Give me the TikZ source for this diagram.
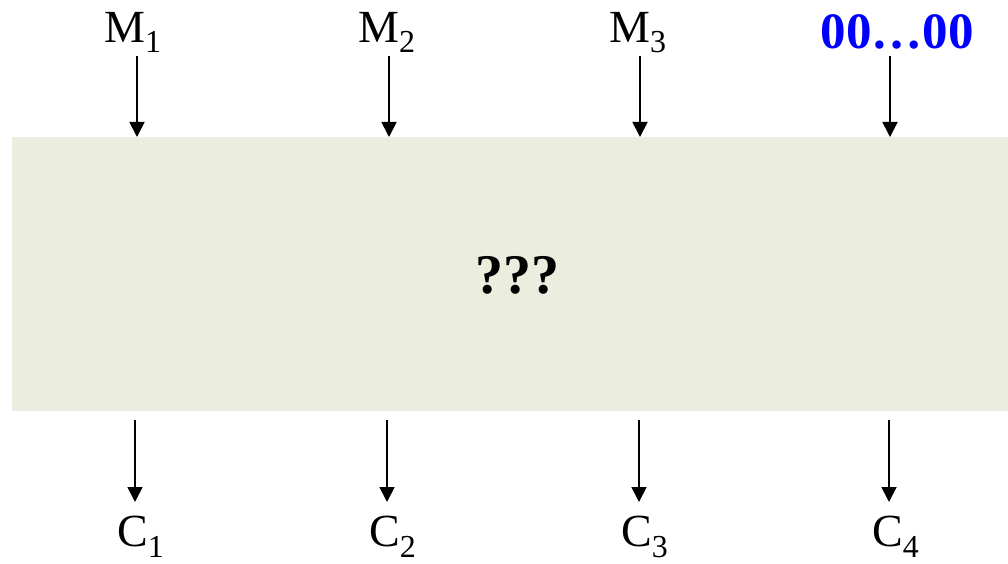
\documentclass[tikz,border=0pt]{standalone}
\usepackage{fontspec}
\setmainfont{Liberation Serif}
\usetikzlibrary{arrows.meta}
\definecolor{boxfill}{RGB}{235,238,222}
\definecolor{pureblue}{RGB}{0,0,255}
\newcommand{\lbl}[3][10pt]{#2\raisebox{-#1}{\fontsize{32}{34}\selectfont #3}}
\tikzset{
  lab/.style={anchor=base west, inner sep=0pt, font=\fontsize{46}{50}\selectfont},
  arr/.style={line width=1.8pt, -{Triangle[length=15pt,width=15pt]}},
  bigbox/.style={fill=boxfill, draw=none, anchor=north west, minimum width=996pt, minimum height=274pt, inner sep=0pt}
}
\begin{document}
\begin{tikzpicture}[x=1pt,y=-1pt]
\useasboundingbox (0,0) rectangle (1008,564);
\node[bigbox] (box) at (12,137) {};
\node[inner sep=0pt, anchor=base, font=\fontsize{56}{60}\selectfont\bfseries] (q) at (517,293) {???};
% top labels
\node[lab] (m1) at (104,43) {\lbl{M}{1}};
\node[lab] (m2) at (358,43) {\lbl{M}{2}};
\node[lab] (m3) at (609,43) {\lbl{M}{3}};
\node[inner sep=0pt, anchor=base, font=\fontsize{51}{55}\selectfont\bfseries, text=pureblue] (z) at (897,49) {00\dots00};
% bottom labels
\node[lab] (c1) at (117,546) {\lbl[11pt]{C}{1}};
\node[lab] (c2) at (369,546) {\lbl[11pt]{C}{2}};
\node[lab] (c3) at (621,546) {\lbl[11pt]{C}{3}};
\node[lab] (c4) at (872,546) {\lbl[11pt]{C}{4}};
% arrow start points
\coordinate (t1) at (137,56);
\coordinate (t2) at (389,56);
\coordinate (t3) at (640,56);
\coordinate (t4) at (890,56);
\coordinate (b1) at (135,420);
\coordinate (b2) at (387,420);
\coordinate (b3) at (639,420);
\coordinate (b4) at (889,420);
\coordinate (e1) at (135,502);
\coordinate (e2) at (387,502);
\coordinate (e3) at (639,502);
\coordinate (e4) at (889,502);
\foreach \i in {1,2,3,4} {
  \draw[arr] (t\i) -- (t\i |- box.north);
  \draw[arr] (b\i) -- (e\i);
}
\end{tikzpicture}
\end{document}
